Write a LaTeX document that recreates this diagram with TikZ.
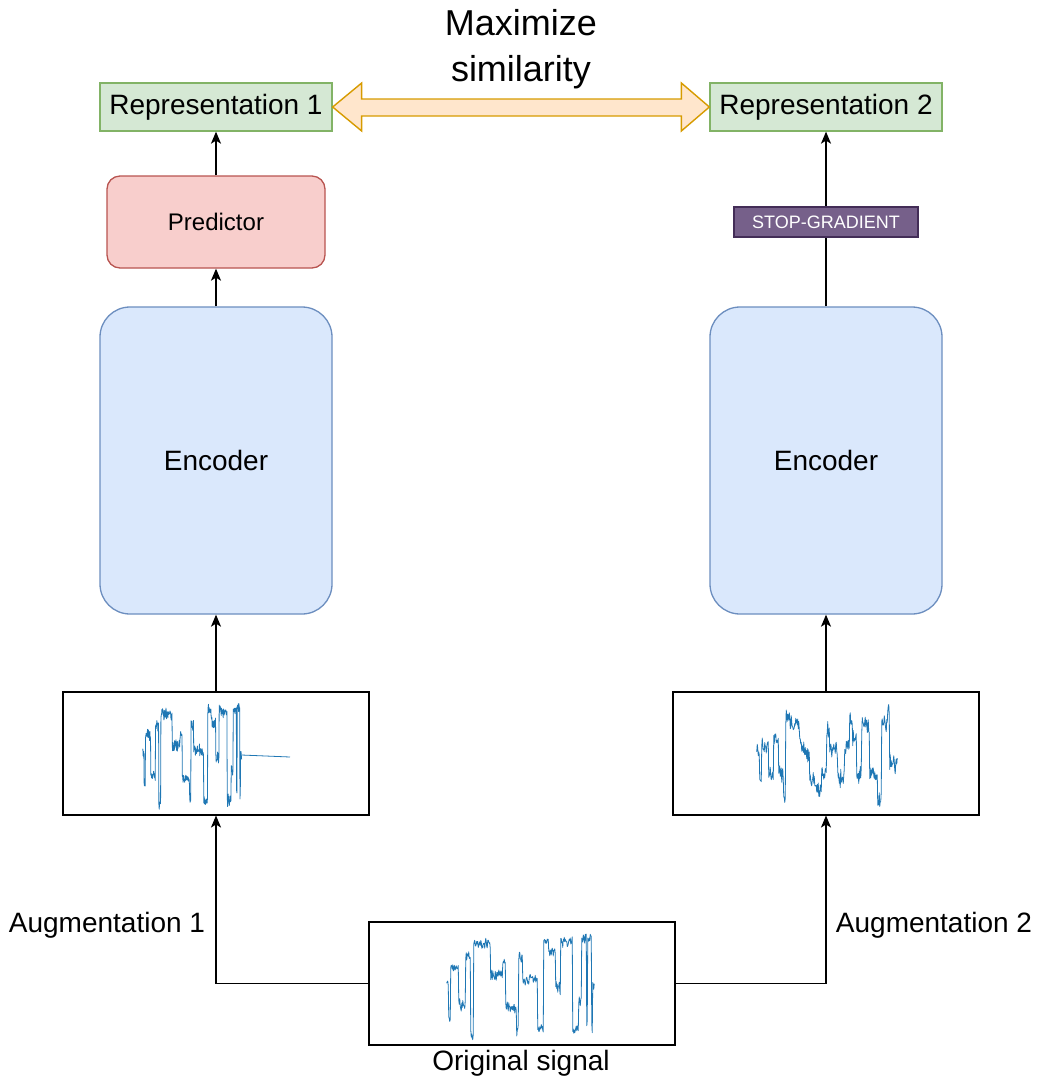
\documentclass[tikz,border=0pt]{standalone}
\usepackage{fontspec}
\setmainfont{Liberation Sans}
\usetikzlibrary{arrows.meta,calc}

\definecolor{repfill}{HTML}{D5E8D4}
\definecolor{repline}{HTML}{82B366}
\definecolor{predfill}{HTML}{F8CECC}
\definecolor{predline}{HTML}{B85450}
\definecolor{encfill}{HTML}{DAE8FC}
\definecolor{encline}{HTML}{6C8EBF}
\definecolor{sgfill}{HTML}{76608A}
\definecolor{sgline}{HTML}{432D57}
\definecolor{simfill}{HTML}{FFE6CC}
\definecolor{simline}{HTML}{D79B00}
\definecolor{sigblue}{HTML}{1F77B4}

% signal trace: start point, noise amplitude, list of x0/x1/level segments
\newcommand\sigtrace[3]{%
  \edef\siglist{#3}%
  \draw[sigline] #1 \foreach \a/\b/\l in \siglist {
      \foreach \k in {\a,...,\b} {
        -- ({\k-0.25},{\l+#2*rand+0.6*#2*rand})
        -- ({\k+0.25},{\l+#2*rand+0.6*#2*rand}) }
    };}

\begin{document}
\begin{tikzpicture}[x=1pt,y=-1pt,
  txt/.style={font=\fontsize{28}{34}\selectfont},
  repbox/.style={draw=repline,fill=repfill,line width=1.3pt,minimum width=232pt,minimum height=48pt,inner sep=0pt,txt},
  predbox/.style={draw=predline,fill=predfill,line width=1.3pt,rounded corners=13pt,minimum width=218pt,minimum height=92pt,inner sep=0pt,font=\fontsize{24}{29}\selectfont},
  encbox/.style={draw=encline,fill=encfill,line width=1.3pt,rounded corners=30pt,minimum width=232pt,minimum height=307pt,inner sep=0pt,txt},
  sgbox/.style={draw=sgline,fill=sgfill,line width=1.3pt,minimum width=184pt,minimum height=30pt,inner sep=0pt,text=white,font=\fontsize{18}{22}\selectfont},
  imgbox/.style={draw=black,line width=2pt,minimum width=306pt,minimum height=123pt,inner sep=0pt},
  arr/.style={draw=black,line width=1.4pt,-{Stealth[length=12pt,width=10pt,inset=3pt]}},
  sigline/.style={draw=sigblue,line width=0.8pt,line join=round}]

\useasboundingbox (0,0) rectangle (1038,1077);
\pgfmathsetseed{11}

% top row
\node[repbox] (rep1) at (216,107) {Representation 1};
\node[repbox] (rep2) at (826,107) {Representation 2};
\node[align=center,font=\fontsize{36}{46}\selectfont] (maxsim) at (521,49) {Maximize\\similarity};

% double-headed similarity arrow
\draw[draw=simline,fill=simfill,line width=1.4pt,line join=miter]
  (rep1.east) -- ++(29,-24) -- ++(0,16) -- ($(rep2.west)+(-28,-8)$) -- ++(0,-16)
  -- (rep2.west) -- ++(-28,24) -- ++(0,-15) -- ($(rep1.east)+(29,9)$) -- ++(0,15) -- cycle;

% left branch
\node[predbox] (pred) at (216,222) {Predictor};
\node[encbox] (enc1) at (216,460.5) {Encoder};
\node[imgbox] (aug1) at (216,753) {};

% right branch
\node[encbox] (enc2) at (826,460.5) {Encoder};
\node[imgbox] (aug2) at (826,753) {};

% original signal
\node[imgbox] (orig) at (521.5,983.5) {};
\node[txt,anchor=base] (origlbl) at (521,1070) {Original signal};

\node[txt,anchor=base] (auglbl1) at (107,932) {Augmentation 1};
\node[txt,anchor=base] (auglbl2) at (934,932) {Augmentation 2};

% connectors
\draw[arr] (orig.west) -| (aug1.south);
\draw[arr] (orig.east) -| (aug2.south);
\draw[arr] (aug1.north) -- (enc1.south);
\draw[arr] (aug2.north) -- (enc2.south);
\draw[arr] (enc1.north) -- (pred.south);
\draw[arr] (pred.north) -- (rep1.south);
\draw[arr] (enc2.north) -- (rep2.south);
\node[sgbox] (sg) at (826,222) {STOP-GRADIENT};

% original trace
\def\origsegs{447/448/982,449/450/1016,451/458/966,459/465/1005,466/470/955,471/473/1034,474/490/944,491/502/975,503/505/962,506/516/1008,517/518/1030,519/522/957,523/537/980,538/543/1030,544/548/940,549/555/952,556/560/988,561/572/942,573/578/1030,579/581/1000,582/586/938,587/587/1022,588/591/938,592/592/1026,593/594/985}
\sigtrace{(447,982)}{4.5}{\origsegs}

% augmentation 1: time-compressed copy with a flat tail
\begin{scope}[shift={(-156.5,-230)},xscale=0.67]
  \sigtrace{(447,982)}{4.5}{\origsegs}
\end{scope}
\draw[sigline] (241.5,755) -- (290,757);

% augmentation 2: noisier trace
\sigtrace{(757,750)}{7}{757/759/750,760/761/780,762/768/745,769/773/775,774/778/738,779/783/775,784/785/800,786/789/718,790/799/725,800/804/745,805/809/755,810/815/780,816/821/790,822/826/770,827/829/730,830/837/748,838/844/778,845/849/748,850/852/720,853/856/738,857/861/775,862/869/725,870/877/772,878/881/800,882/887/722,888/889/705,890/892/762,893/897/765}

\end{tikzpicture}
\end{document}
